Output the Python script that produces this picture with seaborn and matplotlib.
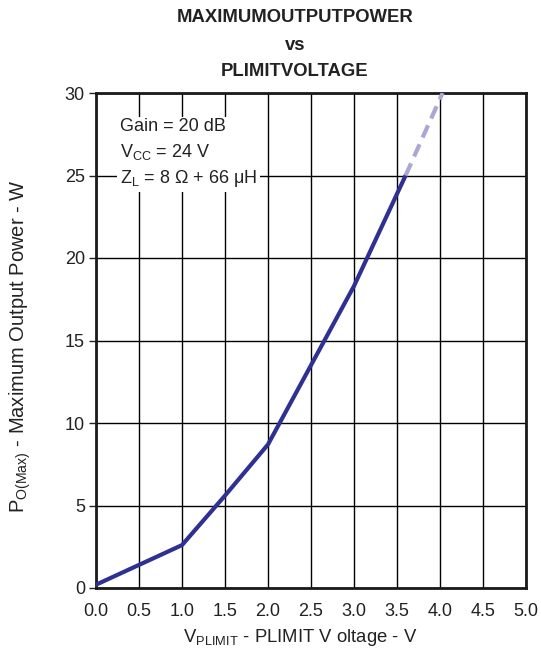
import matplotlib
matplotlib.use("Agg")
import matplotlib.pyplot as plt
import seaborn as sns
import pandas as pd

# Data
solid_x = [0.0, 0.5, 1.0, 1.5, 2.0, 2.5, 3.0, 3.6]
solid_y = [0.2, 1.4, 2.6, 5.6, 8.7, 13.5, 18.3, 25.0]
dash_x = [3.6, 4.03]
dash_y = [25.0, 30.0]
x_ticks = [0.0, 0.5, 1.0, 1.5, 2.0, 2.5, 3.0, 3.5, 4.0, 4.5, 5.0]
y_ticks = [0, 5, 10, 15, 20, 25, 30]

sns.set_theme(style="white")
plt.rcParams['font.family'] = ['Liberation Sans', 'DejaVu Sans']
plt.rcParams['mathtext.fontset'] = 'custom'
plt.rcParams['mathtext.rm'] = 'Liberation Sans'
plt.rcParams['mathtext.it'] = 'Liberation Sans:italic'

fig = plt.figure(figsize=(5.41, 6.57), dpi=100)
ax = fig.add_axes([96/541, 1-588/657, (526-96)/541, (588-93)/657])

df_s = pd.DataFrame({"x": solid_x, "y": solid_y})
df_d = pd.DataFrame({"x": dash_x, "y": dash_y})
sns.lineplot(data=df_s, x="x", y="y", ax=ax, color="#2E3192", lw=3.0, zorder=5)
sns.lineplot(data=df_d, x="x", y="y", ax=ax, color="#AAA7D3", lw=3.0,
             linestyle=(0, (3.2, 1.8)), zorder=5)

ax.set_xlim(0, 5)
ax.set_ylim(0, 30)
ax.set_xticks(x_ticks)
ax.set_xticklabels([f"{v:.1f}" for v in x_ticks])
ax.set_yticks(y_ticks)
ax.set_yticklabels([str(v) for v in y_ticks])
ax.grid(True, color="black", lw=1.0)
ax.set_axisbelow(True)
for s in ax.spines.values():
    s.set_color("#1a1a1a")
    s.set_linewidth(2.0)
ax.tick_params(axis="x", length=0, labelsize=13, pad=11, colors="#222222")
ax.tick_params(axis="y", length=5, width=1, direction="out", left=True,
               labelsize=13, pad=3, colors="#222222")
ax.set_xlabel("")
ax.set_ylabel("")

ax.text(0.28, 28.5,
        "Gain = 20 dB\nV$_{\\mathrm{CC}}$ = 24 V\nZ$_{\\mathrm{L}}$ = 8 \u03a9 + 66 \u03bcH",
        fontsize=13, va="top", ha="left", color="#222222", linespacing=1.45,
        bbox=dict(facecolor="white", edgecolor="none", pad=2), zorder=3)

fig.text(295/541, 1-18/657, "MAXIMUMOUTPUTPOWER", ha="center", va="center",
         fontsize=13.3, fontweight="bold", color="#222222")
fig.text(295/541, 1-46/657, "vs", ha="center", va="center",
         fontsize=13.3, fontweight="bold", color="#222222")
fig.text(295/541, 1-72/657, "PLIMITVOLTAGE", ha="center", va="center",
         fontsize=13.3, fontweight="bold", color="#222222")

fig.text(300/541, 1-638/657, "V$_{\\mathrm{PLIMIT}}$ - PLIMIT V oltage - V",
         ha="center", va="center", fontsize=13.3, color="#222222")
fig.text(20/541, 1-346/657, "P$_{\\mathrm{O(Max)}}$ - Maximum Output Power - W",
         ha="center", va="center", rotation=90, fontsize=14.5, color="#222222")

fig.savefig("out.png", dpi=100)
